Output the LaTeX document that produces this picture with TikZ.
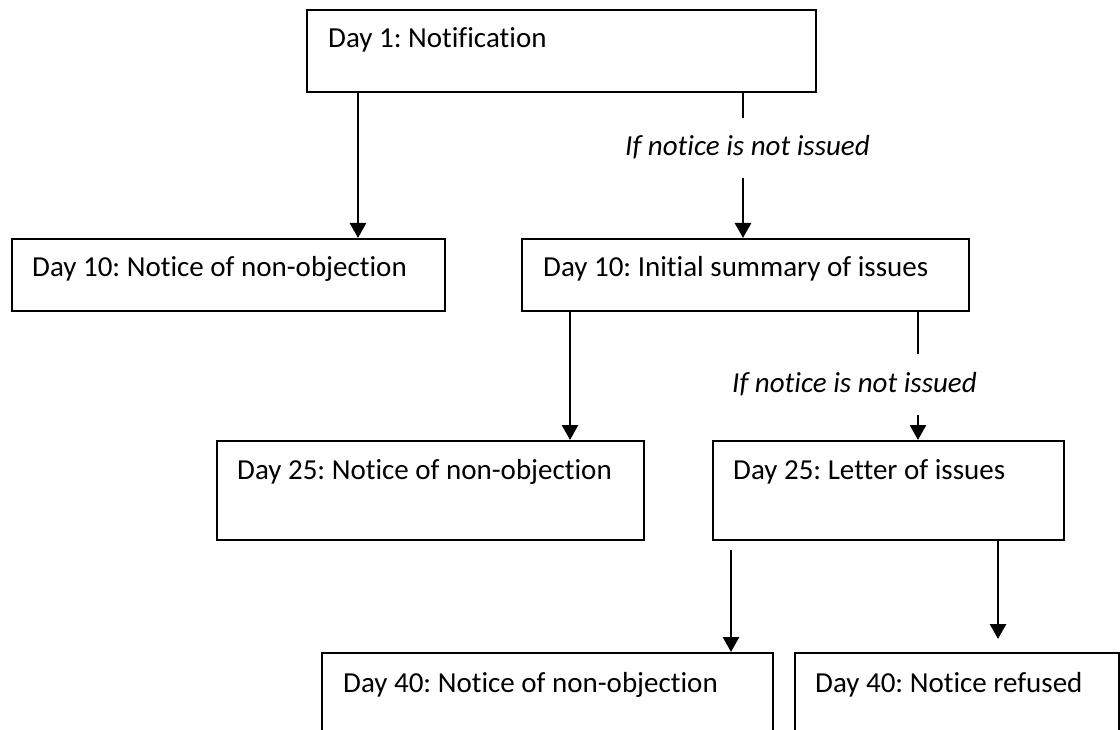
\documentclass[tikz,border=0pt]{standalone}
\usepackage{fontspec}
\setmainfont{Carlito}[Ligatures=NoCommon]
\usetikzlibrary{arrows.meta}
\frenchspacing
\begin{document}
\begin{tikzpicture}[x=1pt,y=-1pt,
  box/.style={draw=black, line width=1.9pt, inner sep=0pt, anchor=north west},
  lbl/.style={anchor=base west, inner sep=0pt, font=\fontsize{29pt}{35pt}\selectfont\frenchspacing},
  cond/.style={anchor=base west, inner sep=0pt, font=\fontsize{29pt}{35pt}\selectfont\itshape\frenchspacing},
  conn/.style={line width=2.9pt},
  arr/.style={conn, -{Triangle[width=16pt,length=15pt]}}]
\useasboundingbox (0,0) rectangle (1120,730);
\clip (0,0) rectangle (1120,730);
% boxes
\node[box, minimum width=509pt, minimum height=82pt] (b1) at (306,9) {};
\node[box, minimum width=433pt, minimum height=72pt] (b2) at (11,238) {};
\node[box, minimum width=447pt, minimum height=72pt] (b3) at (521,238) {};
\node[box, minimum width=427pt, minimum height=99pt] (b4) at (216,440) {};
\node[box, minimum width=351pt, minimum height=99pt] (b5) at (712,440) {};
\node[box, minimum width=451pt, minimum height=120pt] (b6) at (321,652) {};
\node[box, minimum width=324pt, minimum height=120pt] (b7) at (794,652) {};
% texts
\node[lbl] (t1) at (328,48) {Day 1: Notification};
\node[lbl] (t2) at (32,277) {Day 10: Notice of non-objection};
\node[lbl] (t3) at (543,277) {Day 10: Initial summary of issues};
\node[lbl] (t4) at (237,479) {Day 25: Notice of non-objection};
\node[lbl] (t5) at (733,479) {Day 25: Letter of issues};
\node[lbl] (t6) at (343,692) {Day 40: Notice of non-objection};
\node[lbl] (t7) at (815,692) {Day 40: Notice refused};
\node[cond] (l1) at (625,156) {If notice is not issued};
\node[cond] (l2) at (732,392) {If notice is not issued};
% coordinates
\coordinate (c1) at (358,0);
\coordinate (c2) at (743,118);
\coordinate (c3) at (743,178);
\coordinate (c4) at (570,0);
\coordinate (c5) at (918,354);
\coordinate (c6) at (918,415);
\coordinate (c7) at (731,550);
\coordinate (c8) at (998,639);
% connectors
\draw[arr] (b1.south -| c1) -- (b2.north -| c1);
\draw[conn] (b1.south -| c2) -- (c2);
\draw[arr] (c3) -- (b3.north -| c3);
\draw[arr] (b3.south -| c4) -- (b4.north -| c4);
\draw[conn] (b3.south -| c5) -- (c5);
\draw[arr] (c6) -- (b5.north -| c6);
\draw[arr] (c7) -- (b6.north -| c7);
\draw[arr] (b5.south -| c8) -- (c8);
\end{tikzpicture}
\end{document}
